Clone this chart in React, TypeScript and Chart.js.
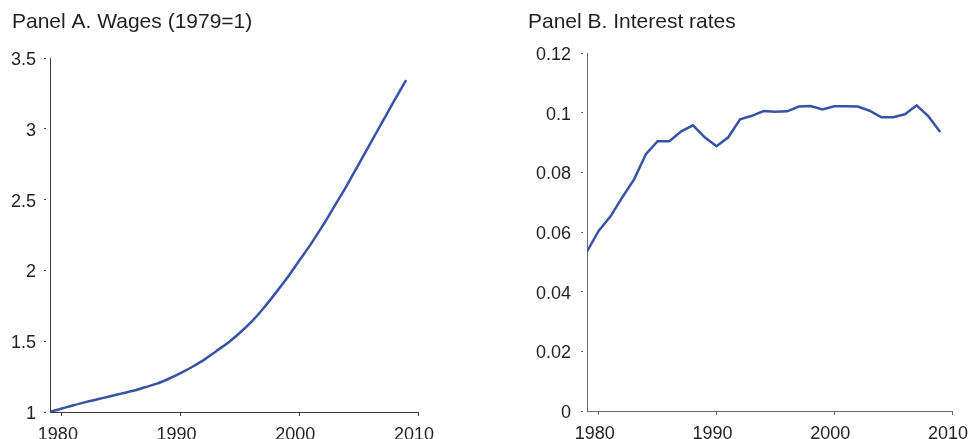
import React, { useEffect, useRef } from 'react';
import { Chart, registerables } from 'chart.js';
Chart.register(...registerables);

const years = [
  1979, 1980, 1981, 1982, 1983, 1984, 1985, 1986, 1987, 1988, 1989, 1990, 1991, 1992, 1993, 1994,
  1995, 1996, 1997, 1998, 1999, 2000, 2001, 2002, 2003, 2004, 2005, 2006, 2007, 2008, 2009,
];
const wages = [
  1.0, 1.025, 1.048, 1.07, 1.09, 1.11, 1.13, 1.15, 1.175, 1.2, 1.235, 1.275, 1.32, 1.37, 1.43, 1.49,
  1.56, 1.64, 1.735, 1.84, 1.95, 2.07, 2.19, 2.32, 2.46, 2.6, 2.75, 2.9, 3.05, 3.2, 3.345,
];
const rates = [
  0.0535, 0.0605, 0.0653, 0.0717, 0.0777, 0.0861, 0.0905, 0.0905, 0.0938, 0.0958, 0.0918, 0.0888,
  0.0918, 0.0978, 0.099, 0.1006, 0.1004, 0.1005, 0.1021, 0.1023, 0.1011, 0.1022, 0.1022, 0.1021,
  0.1007, 0.0985, 0.0985, 0.0995, 0.1025, 0.0988, 0.0936,
];
const xTicks = [1980, 1990, 2000, 2010];
const wageTicks = [1, 1.5, 2, 2.5, 3, 3.5];
const rateTicks = [0, 0.02, 0.04, 0.06, 0.08, 0.1, 0.12];

const FONT = "'Liberation Sans', Arial, Helvetica, sans-serif";
const TEXT = '#231f20';
const LINE = '#3953a4';

type PanelProps = {
  title: string;
  values: number[];
  yTicks: number[];
  yMin: number;
  yMax: number;
  left: number;
  width: number;
  yAxisWidth: number;
  padRight: number;
  titleBottom: number;
  xAxisHeight: number;
  axisColor: string;
  labelPad: number;
  smooth: boolean;
};

function Panel(p: PanelProps) {
  const ref = useRef<HTMLCanvasElement | null>(null);
  useEffect(() => {
    if (!ref.current) return;
    const chart = new Chart(ref.current, {
      type: 'line',
      data: {
        datasets: [
          {
            data: years.map((y, i) => ({ x: y, y: p.values[i] })),
            borderColor: LINE,
            borderWidth: 2.5,
            pointRadius: 0,
            fill: false,
            tension: 0,
            cubicInterpolationMode: p.smooth ? 'monotone' : 'default',
          },
        ],
      },
      options: {
        responsive: false,
        animation: false,
        devicePixelRatio: 1,
        layout: { padding: { left: 12, right: p.padRight, top: 0, bottom: 0 } },
        plugins: {
          legend: { display: false },
          tooltip: { enabled: false },
          title: {
            display: true,
            text: p.title,
            align: 'start',
            color: TEXT,
            font: { family: FONT, size: 21, weight: 'normal', lineHeight: 1.2 },
            padding: { top: 10, bottom: p.titleBottom },
          },
        },
        scales: {
          x: {
            type: 'linear',
            min: 1979,
            max: 2010,
            afterBuildTicks: (s: any) => {
              s.ticks = xTicks.map((v) => ({ value: v }));
            },
            afterFit: (s: any) => {
              s.height = p.xAxisHeight;
              s.paddingLeft = 0;
              s.paddingRight = 0;
            },
            grid: { drawOnChartArea: false, drawTicks: true, tickLength: 4, color: p.axisColor, lineWidth: 1 },
            border: { display: true, color: p.axisColor, width: 1 },
            ticks: {
              color: TEXT,
              padding: 8,
              labelOffset: -4,
              maxRotation: 0,
              autoSkip: false,
              font: { family: FONT, size: 18 },
              callback: (v: any) => String(v),
            },
          },
          y: {
            type: 'linear',
            min: p.yMin,
            max: p.yMax,
            afterBuildTicks: (s: any) => {
              s.ticks = p.yTicks.map((v) => ({ value: v }));
            },
            afterFit: (s: any) => {
              s.width = p.yAxisWidth;
            },
            grid: {
              drawOnChartArea: false,
              drawTicks: true,
              tickLength: 6,
              color: p.axisColor,
              lineWidth: 1,
              tickBorderDash: [2, 10],
            },
            border: { display: true, color: p.axisColor, width: 1 },
            ticks: {
              color: TEXT,
              padding: p.labelPad,
              labelOffset: 2,
              autoSkip: false,
              font: { family: FONT, size: 18 },
              callback: (v: any) => String(+Number(v).toFixed(4)),
            },
          },
        },
      },
    } as any);
    return () => chart.destroy();
  }, []);
  return (
    <canvas
      ref={ref}
      width={p.width}
      height={439}
      style={{ position: 'absolute', left: p.left, top: 0, width: p.width, height: 439 }}
    />
  );
}

export default function App() {
  return (
    <div
      style={{
        position: 'fixed',
        left: 0,
        top: 0,
        width: 969,
        height: 439,
        background: '#fff',
        overflow: 'hidden',
      }}
    >
      <Panel
        title="Panel A. Wages (1979=1)"
        values={wages}
        yTicks={wageTicks}
        yMin={1}
        yMax={3.5}
        left={0}
        width={484}
        yAxisWidth={38}
        padRight={66}
        titleBottom={23}
        xAxisHeight={27}
        axisColor="#3a3a3a"
        labelPad={8}
        smooth={true}
      />
      <Panel
        title="Panel B. Interest rates"
        values={rates}
        yTicks={rateTicks}
        yMin={0}
        yMax={0.12}
        left={516}
        width={453}
        yAxisWidth={59}
        padRight={17}
        titleBottom={18}
        xAxisHeight={28}
        axisColor="#6b6b6b"
        labelPad={10}
        smooth={false}
      />
    </div>
  );
}
